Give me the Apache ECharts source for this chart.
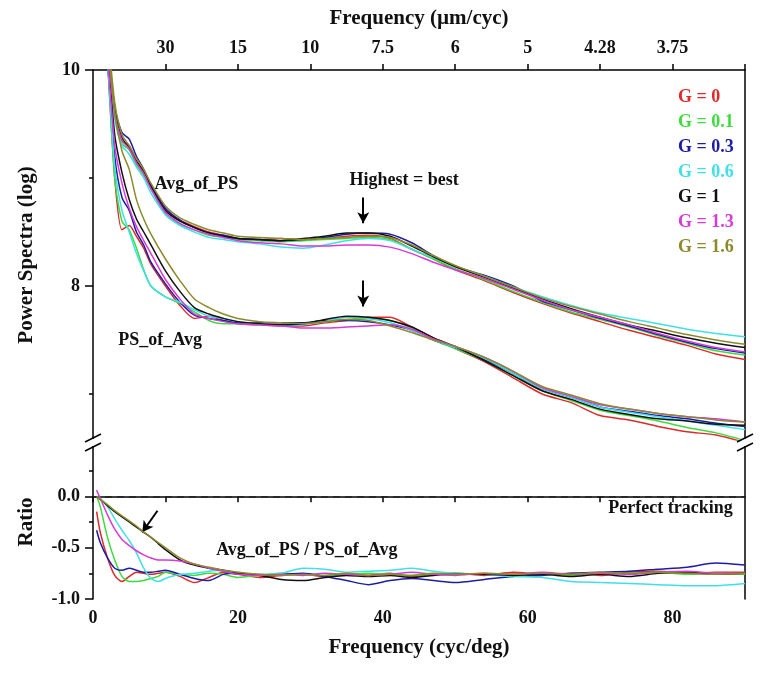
<!DOCTYPE html>
<html><head><meta charset="utf-8">
<script src="https://cdn.jsdelivr.net/npm/echarts@6/dist/echarts.min.js"></script>
<style>html,body{margin:0;padding:0;background:#fff}#c{width:768px;height:676px}</style>
</head><body><div id="c"></div>
<script>
// ---------- data ----------
const gNames = ['G = 0', 'G = 0.1', 'G = 0.3', 'G = 0.6', 'G = 1', 'G = 1.3', 'G = 1.6'];
const gColors = ['#e02a2a', '#3ddc3d', '#1c1ca8', '#3fe0e8', '#111111', '#d83ad8', '#8c8a2c'];

// frequency (cyc/deg) sample points for the power-spectra panel
const freqUp = [1.5, 2, 3, 4, 5, 6, 7, 8, 10, 12, 14, 16, 18, 20, 23, 26, 29, 32, 35, 38, 41, 44, 47, 50, 54, 58, 62, 66, 70, 74, 78, 82, 86, 90];

// Avg_of_PS (log power)
const avgG0   = [10.9, 10.35, 9.60, 9.34, 9.30, 9.15, 9.05, 8.93, 8.70, 8.61, 8.55, 8.50, 8.47, 8.44, 8.43, 8.44, 8.43, 8.44, 8.46, 8.47, 8.44, 8.34, 8.25, 8.15, 8.05, 7.94, 7.84, 7.75, 7.67, 7.59, 7.52, 7.45, 7.37, 7.32];
const avgG01  = [10.85, 10.3, 9.58, 9.32, 9.26, 9.12, 9.02, 8.90, 8.66, 8.57, 8.52, 8.47, 8.45, 8.43, 8.42, 8.41, 8.42, 8.43, 8.44, 8.45, 8.43, 8.34, 8.25, 8.16, 8.06, 7.95, 7.85, 7.76, 7.69, 7.62, 7.54, 7.47, 7.40, 7.36];
const avgG03  = [10.8, 10.25, 9.66, 9.42, 9.36, 9.20, 9.08, 8.94, 8.72, 8.61, 8.54, 8.49, 8.47, 8.44, 8.43, 8.42, 8.43, 8.45, 8.48, 8.49, 8.48, 8.40, 8.28, 8.18, 8.10, 8.00, 7.86, 7.78, 7.70, 7.63, 7.55, 7.48, 7.42, 7.38];
const avgG06  = [10.75, 10.2, 9.55, 9.30, 9.22, 9.10, 9.00, 8.86, 8.66, 8.56, 8.50, 8.45, 8.43, 8.41, 8.39, 8.36, 8.35, 8.38, 8.42, 8.44, 8.42, 8.34, 8.26, 8.18, 8.09, 7.99, 7.90, 7.82, 7.75, 7.70, 7.65, 7.60, 7.56, 7.53];
const avgG1   = [10.8, 10.3, 9.63, 9.37, 9.28, 9.16, 9.06, 8.92, 8.70, 8.60, 8.54, 8.49, 8.46, 8.44, 8.43, 8.42, 8.44, 8.46, 8.49, 8.49, 8.46, 8.37, 8.27, 8.18, 8.08, 7.98, 7.88, 7.79, 7.71, 7.64, 7.58, 7.52, 7.47, 7.43];
const avgG13  = [10.8, 10.28, 9.60, 9.35, 9.27, 9.14, 9.04, 8.90, 8.68, 8.58, 8.52, 8.48, 8.45, 8.42, 8.40, 8.39, 8.37, 8.37, 8.38, 8.38, 8.36, 8.30, 8.22, 8.15, 8.07, 7.97, 7.87, 7.78, 7.71, 7.64, 7.56, 7.49, 7.43, 7.39];
const avgG16  = [10.9, 10.4, 9.70, 9.40, 9.30, 9.18, 9.08, 8.95, 8.74, 8.63, 8.57, 8.52, 8.49, 8.46, 8.45, 8.44, 8.43, 8.44, 8.45, 8.46, 8.45, 8.38, 8.28, 8.19, 8.09, 7.99, 7.89, 7.81, 7.74, 7.67, 7.61, 7.55, 7.50, 7.46];

// PS_of_Avg (log power)
const psG0    = [10.6, 10.1, 9.0, 8.52, 8.56, 8.46, 8.35, 8.20, 8.00, 7.82, 7.70, 7.72, 7.68, 7.65, 7.64, 7.63, 7.63, 7.66, 7.68, 7.71, 7.71, 7.62, 7.52, 7.42, 7.30, 7.15, 7.00, 6.92, 6.80, 6.76, 6.70, 6.65, 6.62, 6.55];
const psG01   = [10.6, 10.1, 9.0, 8.60, 8.52, 8.35, 8.15, 8.00, 7.90, 7.84, 7.76, 7.68, 7.65, 7.65, 7.64, 7.64, 7.65, 7.67, 7.69, 7.70, 7.68, 7.61, 7.50, 7.42, 7.31, 7.17, 7.03, 6.94, 6.85, 6.80, 6.75, 6.69, 6.64, 6.57];
const psG03   = [10.6, 10.1, 9.2, 8.82, 8.70, 8.50, 8.38, 8.22, 8.02, 7.85, 7.73, 7.70, 7.68, 7.66, 7.66, 7.66, 7.66, 7.68, 7.68, 7.67, 7.64, 7.59, 7.50, 7.43, 7.32, 7.19, 7.05, 6.97, 6.88, 6.84, 6.80, 6.77, 6.73, 6.70];
const psG06   = [10.6, 10.1, 9.1, 8.70, 8.50, 8.30, 8.14, 8.00, 7.90, 7.85, 7.78, 7.72, 7.70, 7.67, 7.65, 7.63, 7.64, 7.67, 7.71, 7.70, 7.66, 7.59, 7.50, 7.43, 7.33, 7.19, 7.05, 6.97, 6.88, 6.83, 6.79, 6.75, 6.71, 6.67];
const psG1    = [10.7, 10.2, 9.4, 9.05, 8.80, 8.62, 8.50, 8.38, 8.14, 7.95, 7.80, 7.74, 7.70, 7.67, 7.65, 7.64, 7.65, 7.69, 7.72, 7.71, 7.68, 7.62, 7.52, 7.44, 7.31, 7.17, 7.03, 6.95, 6.86, 6.81, 6.77, 6.75, 6.72, 6.71];
const psG13   = [10.6, 10.15, 9.3, 8.95, 8.72, 8.55, 8.42, 8.30, 8.06, 7.88, 7.74, 7.70, 7.67, 7.65, 7.64, 7.63, 7.61, 7.61, 7.62, 7.63, 7.64, 7.60, 7.51, 7.44, 7.34, 7.21, 7.06, 6.98, 6.90, 6.86, 6.82, 6.79, 6.77, 6.74];
const psG16   = [10.8, 10.3, 9.6, 9.25, 9.08, 8.80, 8.62, 8.48, 8.25, 8.05, 7.88, 7.80, 7.74, 7.70, 7.67, 7.66, 7.65, 7.67, 7.69, 7.68, 7.63, 7.57, 7.50, 7.44, 7.34, 7.21, 7.07, 6.99, 6.91, 6.86, 6.82, 6.79, 6.76, 6.74];

// frequency sample points for the ratio panel
const freqRatio = [0.5, 1, 2, 3, 4, 5, 6, 7, 8, 9, 10, 12, 14, 16, 18, 20, 23, 26, 29, 32, 35, 38, 41, 44, 47, 50, 54, 58, 62, 66, 70, 74, 78, 82, 86, 90];

// Avg_of_PS / PS_of_Avg ratio
const ratG0   = [-0.15, -0.35, -0.60, -0.77, -0.83, -0.78, -0.74, -0.75, -0.76, -0.75, -0.74, -0.78, -0.84, -0.79, -0.74, -0.76, -0.79, -0.77, -0.76, -0.78, -0.76, -0.77, -0.75, -0.78, -0.76, -0.75, -0.77, -0.74, -0.76, -0.75, -0.77, -0.74, -0.73, -0.75, -0.74, -0.74];
const ratG01  = [0.0, -0.10, -0.40, -0.62, -0.78, -0.83, -0.83, -0.82, -0.80, -0.78, -0.74, -0.76, -0.77, -0.75, -0.76, -0.79, -0.77, -0.75, -0.76, -0.77, -0.76, -0.75, -0.76, -0.77, -0.76, -0.75, -0.76, -0.76, -0.75, -0.77, -0.76, -0.75, -0.74, -0.76, -0.75, -0.76];
const ratG03  = [-0.33, -0.45, -0.60, -0.70, -0.72, -0.70, -0.72, -0.74, -0.74, -0.73, -0.72, -0.76, -0.80, -0.82, -0.76, -0.75, -0.77, -0.76, -0.75, -0.78, -0.82, -0.86, -0.82, -0.80, -0.82, -0.84, -0.81, -0.78, -0.77, -0.75, -0.74, -0.73, -0.71, -0.69, -0.65, -0.67];
const ratG06  = [0.0, -0.02, -0.10, -0.22, -0.33, -0.43, -0.55, -0.70, -0.80, -0.83, -0.80, -0.76, -0.75, -0.73, -0.72, -0.74, -0.76, -0.75, -0.70, -0.71, -0.74, -0.73, -0.72, -0.70, -0.73, -0.75, -0.76, -0.78, -0.79, -0.83, -0.84, -0.85, -0.86, -0.87, -0.87, -0.85];
const ratG1   = [0.0, -0.03, -0.09, -0.15, -0.20, -0.25, -0.30, -0.35, -0.40, -0.46, -0.52, -0.62, -0.67, -0.70, -0.72, -0.75, -0.77, -0.81, -0.82, -0.79, -0.77, -0.78, -0.77, -0.79, -0.77, -0.76, -0.76, -0.77, -0.76, -0.78, -0.76, -0.78, -0.75, -0.74, -0.76, -0.75];
const ratG13  = [0.06, -0.02, -0.18, -0.32, -0.42, -0.48, -0.53, -0.57, -0.60, -0.62, -0.62, -0.63, -0.66, -0.70, -0.73, -0.76, -0.77, -0.76, -0.77, -0.75, -0.76, -0.77, -0.76, -0.74, -0.76, -0.77, -0.75, -0.76, -0.74, -0.76, -0.75, -0.76, -0.74, -0.73, -0.75, -0.75];
const ratG16  = [0.0, -0.03, -0.08, -0.14, -0.19, -0.24, -0.29, -0.35, -0.40, -0.45, -0.50, -0.60, -0.66, -0.69, -0.72, -0.74, -0.76, -0.77, -0.76, -0.77, -0.75, -0.77, -0.76, -0.77, -0.75, -0.76, -0.75, -0.76, -0.75, -0.76, -0.74, -0.75, -0.74, -0.75, -0.76, -0.75];

const avgSeries = [avgG0, avgG01, avgG03, avgG06, avgG1, avgG13, avgG16];
const psSeries = [psG0, psG01, psG03, psG06, psG1, psG13, psG16];
const ratioSeries = [ratG0, ratG01, ratG03, ratG06, ratG1, ratG13, ratG16];

// tick labels
const topTickValues = [10, 20, 30, 40, 50, 60, 70, 80];
const topTickLabels = ['30', '15', '10', '7.5', '6', '5', '4.28', '3.75'];
const bottomTickLabels = [0, 20, 40, 60, 80];
const psMajorTicks = [8, 10];
const psMinorTicks = [7, 9];
const ratioMajorTicks = [-1, -0.5, 0];
const ratioMinorTicks = [-0.75, -0.25, 0.25];
const perfectTracking = 0;

// annotations (data coordinates)
const arrowsUp = [[[37.3, 8.82], [37.3, 8.58]], [[37.3, 8.05], [37.3, 7.81]]];
const arrowRatio = [[8.9, -0.14], [6.8, -0.35]];

// ---------- layout ----------
const FONT = '"Liberation Serif", "Times New Roman", serif';
const GL = 93, GR = 23;           // grid left / right
const UP_TOP = 70, UP_H = 370;    // upper panel
const LO_TOP = 445, LO_H = 154;   // lower panel
const UP_MIN = 6.574, UP_MAX = 10;
const LO_MIN = -1, LO_MAX = 0.5;
const AX = { color: '#000', width: 1.5 };
const labelStyle = { fontFamily: FONT, fontWeight: 'bold', fontSize: 18, color: '#111' };
const nameStyle = { fontFamily: FONT, fontWeight: 'bold', fontSize: 21, color: '#111' };
const annStyle = { fontFamily: FONT, fontWeight: 'bold', fontSize: 18, color: '#111' };

const chart = echarts.init(document.getElementById('c'), null, { renderer: 'canvas' });

function pts(xs, ys) { return xs.map((x, i) => [x, ys[i]]); }

function textPoint(coord, text, pos) {
  return {
    coord: coord, symbol: 'circle', symbolSize: 0,
    label: Object.assign({ show: true, formatter: text, position: pos, distance: 0 }, annStyle)
  };
}

const series = [];
gNames.forEach((n, i) => {
  const base = { name: n, type: 'line', showSymbol: false, symbol: 'none', smooth: 0.25,
    lineStyle: { color: gColors[i], width: 1.5 }, itemStyle: { color: gColors[i] }, z: 2 + i };
  series.push(Object.assign({}, base, { xAxisIndex: 0, yAxisIndex: 0, data: pts(freqUp, avgSeries[i]) }));
  series.push(Object.assign({}, base, { xAxisIndex: 0, yAxisIndex: 0, data: pts(freqUp, psSeries[i]) }));
  series.push(Object.assign({}, base, { xAxisIndex: 1, yAxisIndex: 3, data: pts(freqRatio, ratioSeries[i]) }));
});

// annotation carrier series (no data of their own)
series.push({
  type: 'line', xAxisIndex: 0, yAxisIndex: 0, data: [], silent: true, z: 20,
  markLine: {
    silent: true, symbol: ['none', 'arrow'], symbolSize: [9, 11], label: { show: false },
    lineStyle: { color: '#000', width: 2, type: 'solid' },
    data: arrowsUp.map(a => [{ coord: a[0] }, { coord: a[1] }])
  },
  markPoint: {
    silent: true,
    data: [
      textPoint([8.5, 8.94], 'Avg_of_PS', 'right'),
      textPoint([3.5, 7.50], 'PS_of_Avg', 'right'),
      textPoint([35.4, 8.98], 'Highest = best', 'right')
    ]
  }
});
// perfect-tracking reference line
series.push({
  type: 'line', xAxisIndex: 1, yAxisIndex: 3, data: [], silent: true, z: 1,
  markLine: {
    silent: true, symbol: 'none', label: { show: false },
    lineStyle: { color: '#222', width: 1.5, type: [7, 5] },
    data: [{ yAxis: perfectTracking }]
  }
});
// ratio-panel arrow and texts
series.push({
  type: 'line', xAxisIndex: 1, yAxisIndex: 3, data: [], silent: true, z: 20,
  markLine: {
    silent: true, symbol: ['none', 'arrow'], symbolSize: [9, 11], label: { show: false },
    lineStyle: { color: '#000', width: 2, type: 'solid' },
    data: [[{ coord: arrowRatio[0] }, { coord: arrowRatio[1] }]]
  },
  markPoint: {
    silent: true,
    data: [
      textPoint([17.0, -0.53], 'Avg_of_PS / PS_of_Avg', 'right'),
      textPoint([88.3, -0.12], 'Perfect tracking', 'left')
    ]
  }
});

const noSplit = { show: false };
const option = {
  backgroundColor: '#fff',
  animation: false,
  grid: [
    { left: GL, right: GR, top: UP_TOP, height: UP_H, outerBoundsMode: 'none' },
    { left: GL, right: GR, top: LO_TOP, height: LO_H, outerBoundsMode: 'none' }
  ],
  legend: {
    orient: 'vertical', left: 668, top: 82, icon: 'none', itemWidth: 0, itemHeight: 0, itemGap: 5,
    selectedMode: false,
    textStyle: { fontFamily: FONT, fontWeight: 'bold', fontSize: 18, lineHeight: 20 },
    data: gNames.map((n, i) => ({ name: n, textStyle: { color: gColors[i] } }))
  },
  xAxis: [
    { gridIndex: 0, type: 'value', position: 'top', min: 0, max: 90,
      name: 'Frequency (\u00b5m/cyc)', nameLocation: 'middle', nameGap: 41, nameTextStyle: nameStyle,
      axisLine: { lineStyle: AX }, splitLine: noSplit,
      axisTick: { customValues: topTickValues.concat([90]), length: 6, lineStyle: AX },
      axisLabel: Object.assign({ customValues: topTickValues, margin: 13,
        formatter: v => topTickLabels[topTickValues.indexOf(v)] }, labelStyle) },
    { gridIndex: 1, type: 'value', position: 'bottom', min: 0, max: 90, interval: 10,
      name: 'Frequency (cyc/deg)', nameLocation: 'middle', nameGap: 38, nameTextStyle: nameStyle,
      axisLine: { lineStyle: AX }, splitLine: noSplit,
      axisTick: { length: 6, lineStyle: AX },
      axisLabel: Object.assign({ margin: 10, showMaxLabel: false,
        formatter: v => bottomTickLabels.indexOf(v) >= 0 ? String(v) : '' }, labelStyle) }
  ],
  yAxis: [
    { gridIndex: 0, type: 'value', position: 'left', min: UP_MIN, max: UP_MAX,
      name: 'Power Spectra (log)', nameLocation: 'middle', nameGap: 56, nameRotate: 90, nameTextStyle: nameStyle,
      axisLine: { show: true, lineStyle: AX }, splitLine: noSplit,
      axisTick: { customValues: psMajorTicks, length: 8, lineStyle: AX },
      axisLabel: Object.assign({ customValues: psMajorTicks, margin: 13, formatter: v => String(v) }, labelStyle) },
    { gridIndex: 0, type: 'value', position: 'left', min: UP_MIN, max: UP_MAX,
      axisLine: { show: false }, splitLine: noSplit,
      axisTick: { customValues: psMinorTicks, length: 4, lineStyle: AX },
      axisLabel: { show: false } },
    { gridIndex: 0, type: 'value', position: 'right', min: UP_MIN, max: UP_MAX,
      axisLine: { show: true, lineStyle: AX }, splitLine: noSplit,
      axisTick: { show: false }, axisLabel: { show: false } },
    { gridIndex: 1, type: 'value', position: 'left', min: LO_MIN, max: LO_MAX,
      name: 'Ratio', nameLocation: 'middle', nameGap: 56, nameRotate: 90, nameTextStyle: nameStyle,
      axisLine: { show: true, lineStyle: AX }, splitLine: noSplit,
      axisTick: { customValues: ratioMajorTicks, length: 8, lineStyle: AX },
      axisLabel: Object.assign({ customValues: ratioMajorTicks, margin: 13, formatter: v => v.toFixed(1) }, labelStyle) },
    { gridIndex: 1, type: 'value', position: 'left', min: LO_MIN, max: LO_MAX,
      axisLine: { show: false }, splitLine: noSplit,
      axisTick: { customValues: ratioMinorTicks, length: 4, lineStyle: AX },
      axisLabel: { show: false } },
    { gridIndex: 1, type: 'value', position: 'right', min: LO_MIN, max: LO_MAX,
      axisLine: { show: true, lineStyle: AX }, splitLine: noSplit,
      axisTick: { show: false }, axisLabel: { show: false } }
  ],
  series: series
};

// axis-break marks (decoration at the junction of the two panels)
const breakY1 = UP_TOP + UP_H - 2, breakY2 = LO_TOP + 2;
const xL = GL, xR = 768 - GR;
const slashes = [];
[xL, xR].forEach(x => {
  [breakY1, breakY2].forEach(y => {
    slashes.push({ type: 'line', silent: true, z: 100,
      shape: { x1: x - 8, y1: y + 4, x2: x + 8, y2: y - 4 },
      style: { stroke: '#000', lineWidth: 1.5 } });
  });
  slashes.push({ type: 'rect', silent: true, z: 99,
    shape: { x: x - 3, y: breakY1 + 1, width: 6, height: breakY2 - breakY1 - 2 },
    style: { fill: '#fff' } });
});
option.graphic = slashes;

chart.setOption(option);
</script>
</body></html>
